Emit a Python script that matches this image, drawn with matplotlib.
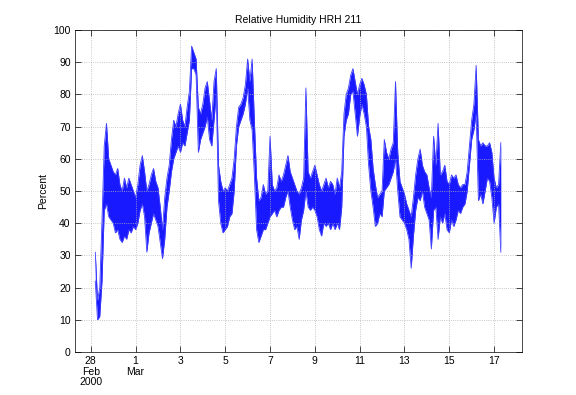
import matplotlib

matplotlib.use("Agg")
import matplotlib.pyplot as plt
import matplotlib.dates as mdates
import pandas as pd

# readings every 0.1 day starting 28 Feb 2000 04:48 (day 0.2)
start = "2000-02-28 04:48"
step_hours = 2.4

# lower / upper edge of the trace within each 0.1 day slot (percent)
rh_low = [
    22, 10, 11, 22, 44, 46, 42, 41, 40, 37,
    38, 35, 34, 36, 35, 38, 37, 39, 38, 40,
    44, 46, 42, 31, 37, 40, 43, 41, 39, 34,
    29, 35, 45, 50, 56, 60, 62, 64, 62, 65,
    64, 68, 72, 88, 88, 86, 62, 66, 68, 70,
    73, 66, 64, 72, 80, 47, 40, 37, 38, 39,
    42, 43, 50, 64, 70, 72, 74, 77, 82, 72,
    69, 55, 38, 34, 36, 38, 38, 40, 42, 43,
    44, 42, 44, 45, 45, 48, 50, 45, 41, 38,
    39, 35, 41, 44, 50, 45, 44, 45, 44, 42,
    38, 36, 40, 39, 40, 38, 40, 38, 40, 38,
    45, 67, 72, 74, 80, 81, 74, 67, 73, 77,
    74, 70, 58, 50, 45, 39, 40, 43, 42, 50,
    51, 52, 54, 56, 60, 50, 42, 41, 40, 38,
    35, 26, 36, 44, 48, 47, 50, 45, 43, 41,
    32, 44, 45, 35, 42, 40, 43, 38, 37, 41,
    39, 41, 44, 43, 45, 46, 50, 58, 66, 69,
    74, 47, 49, 46, 50, 54, 53, 48, 40, 45,
    46, 31,
]
rh_high = [
    31, 16, 20, 41, 64, 71, 60, 58, 56, 55,
    57, 52, 50, 54, 51, 54, 52, 50, 48, 52,
    58, 61, 56, 50, 52, 55, 57, 53, 51, 45,
    38, 48, 54, 58, 66, 72, 70, 74, 77, 72,
    70, 76, 81, 95, 93, 91, 76, 74, 77, 82,
    84, 78, 72, 84, 88, 58, 53, 50, 51, 50,
    52, 54, 60, 70, 76, 77, 79, 83, 91, 84,
    91, 72, 54, 47, 48, 52, 49, 50, 67, 52,
    50, 51, 55, 53, 55, 58, 61, 56, 54, 52,
    50, 49, 51, 54, 82, 56, 54, 56, 58, 55,
    52, 50, 52, 54, 51, 53, 52, 49, 54, 51,
    56, 74, 80, 82, 86, 88, 84, 80, 83, 85,
    83, 80, 70, 66, 57, 52, 48, 49, 50, 66,
    62, 60, 63, 65, 84, 62, 53, 51, 49, 46,
    44, 42, 48, 55, 60, 63, 58, 56, 55, 51,
    48, 67, 58, 71, 55, 56, 58, 53, 52, 55,
    54, 55, 52, 51, 52, 52, 56, 64, 72, 77,
    89, 66, 64, 65, 64, 64, 65, 62, 54, 51,
    52, 65,
]

tick_dates = ["2000-02-28", "2000-03-01", "2000-03-03", "2000-03-05",
              "2000-03-07", "2000-03-09", "2000-03-11", "2000-03-13",
              "2000-03-15", "2000-03-17"]
tick_labels = ["28\nFeb\n2000", "1\nMar", "3", "5", "7", "9", "11", "13", "15", "17"]

plt.rcParams["font.family"] = ["Liberation Sans", "DejaVu Sans"]
plt.rcParams["font.size"] = 7.5

times = pd.date_range(start, periods=len(rh_low), freq=f"{step_hours}h")
t = mdates.date2num(times.to_pydatetime())

fig = plt.figure(figsize=(5.76, 3.95), dpi=100)
ax = fig.add_axes([0.13, 0.109, 0.776, 0.815])
# the raw record is far denser than the picture: draw the band it covers
ax.fill_between(t, rh_low, rh_high, color="#0000ff", alpha=0.9, linewidth=0)
ax.plot(t, rh_low, color="#3c3cff", linewidth=0.6)
ax.plot(t, rh_high, color="#3c3cff", linewidth=0.6)

ticks = mdates.date2num(pd.to_datetime(tick_dates).to_pydatetime())
ax.set_xticks(ticks)
ax.set_xticklabels(tick_labels, linespacing=1.05)
ax.set_xlim(ticks[0] - 0.71, ticks[0] + 19.24)
ax.set_ylim(0, 100)
ax.set_yticks(range(0, 101, 10))

ax.grid(True, linestyle=":", color="#b4b4b4", linewidth=0.6)
ax.tick_params(direction="in", length=4, width=0.5, top=True, right=True,
               colors="black", pad=3)
for spine in ax.spines.values():
    spine.set_linewidth(0.5)

ax.set_ylabel("Percent", labelpad=4)
ax.set_title("Relative Humidity HRH 211", fontsize=7.5, pad=5)

fig.savefig("out.png", dpi=100)
plt.close(fig)
